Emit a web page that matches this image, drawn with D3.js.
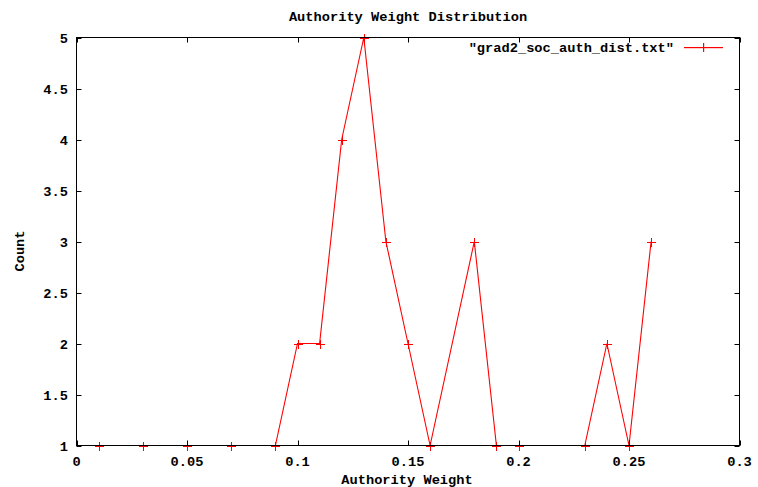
<!DOCTYPE html>
<html><head><meta charset="utf-8">
<script src="https://cdn.jsdelivr.net/npm/d3@7"></script>
<style>
body{margin:0;background:#fff;}
text{font-family:"Liberation Mono","DejaVu Sans Mono",monospace;font-weight:bold;font-size:13.7px;fill:#000;}
</style></head>
<body><svg id="c" width="758" height="487"></svg>
<script>
const weights = [0.01,0.03,0.05,0.07,0.09,0.10,0.11,0.12,0.13,0.14,0.15,0.16,0.18,0.19,0.20,0.23,0.24,0.25,0.26];
const counts  = [1,1,1,1,1,2,2,4,5,3,2,1,3,1,1,1,2,1,3];
const xTicks = [0,0.05,0.1,0.15,0.2,0.25,0.3];
const yTicks = [1,1.5,2,2.5,3,3.5,4,4.5,5];
const title = "Authority Weight Distribution";
const xTitle = "Authority Weight";
const yTitle = "Count";
const seriesName = "\"grad2_soc_auth_dist.txt\"";

const svg = d3.select("#c");
svg.append("rect").attr("width",758).attr("height",487).attr("fill","#fff");
const L=76.5,R=739.5,T=37.5,B=445.5;
const x = d3.scaleLinear().domain([0,0.3]).range([L,R]);
const y = d3.scaleLinear().domain([1,5]).range([B,T]);
const tk=5;
const g = svg.append("g");
const data = weights.map((w,i)=>({w,c:counts[i]}));
g.append("path").datum(data)
  .attr("d",d3.line().x(d=>x(d.w)).y(d=>y(d.c)))
  .style("fill","none").style("stroke","#ff0000").style("stroke-width","1.1px");
const pm=4.5;
g.selectAll(".mk").data(data).enter().append("path")
  .attr("d",d=>{const px=Math.round(x(d.w))+0.5,py=Math.round(y(d.c))+0.5;return `M${px-pm},${py}H${px+pm}M${px},${py-pm}V${py+pm}`;})
  .style("stroke","#ff0000").style("stroke-width","1px").style("fill","none");
const ax = svg.append("g").style("stroke","#000").style("stroke-width","1px");
xTicks.forEach(t=>{const px=Math.round(x(t))+0.5;
  ax.append("line").attr("x1",px).attr("x2",px).attr("y1",B).attr("y2",B-tk);
  ax.append("line").attr("x1",px).attr("x2",px).attr("y1",T).attr("y2",T+tk);});
yTicks.forEach(t=>{const py=Math.round(y(t))+0.5;
  ax.append("line").attr("x1",L).attr("x2",L+tk).attr("y1",py).attr("y2",py);
  ax.append("line").attr("x1",R).attr("x2",R-tk).attr("y1",py).attr("y2",py);});
svg.append("rect").attr("x",L).attr("y",T).attr("width",R-L).attr("height",B-T)
  .style("fill","none").style("stroke","#000").style("stroke-width","1px");
xTicks.forEach(t=>{svg.append("text").attr("x",x(t)).attr("y",466).attr("text-anchor","middle").text(String(t));});
yTicks.forEach(t=>{svg.append("text").attr("x",68).attr("y",y(t)+5).attr("text-anchor","end").text(String(t));});
svg.append("text").attr("x",408).attr("y",21).attr("text-anchor","middle").text(title);
svg.append("text").attr("x",407).attr("y",484).attr("text-anchor","middle").text(xTitle);
svg.append("text").attr("transform","translate(24,251) rotate(-90)").attr("text-anchor","middle").text(yTitle);
const lg = svg.append("g");
lg.append("text").attr("x",674).attr("y",52).attr("text-anchor","end").text(seriesName);
lg.append("rect").attr("x",684).attr("y",47).attr("width",39).attr("height",1.2).style("fill","#ff0000");
lg.append("rect").attr("x",703).attr("y",43).attr("width",1.2).attr("height",9).style("fill","#ff0000");
</script></body></html>
